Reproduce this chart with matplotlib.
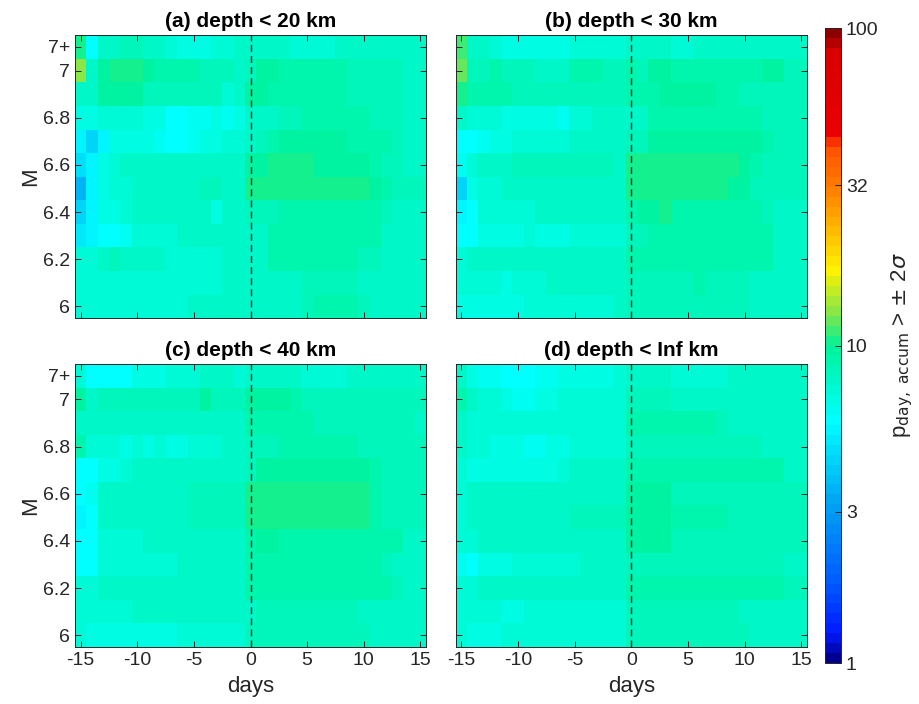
import numpy as np
import matplotlib.pyplot as plt
from matplotlib.colors import LinearSegmentedColormap, LogNorm

plt.rcParams['font.family'] = ['Liberation Sans', 'DejaVu Sans']
plt.rcParams['axes.unicode_minus'] = False

# grid: days around the event, magnitude bins (top row is "7+")
days = np.arange(-15, 16)
mags = [7.1, 7.0, 6.9, 6.8, 6.7, 6.6, 6.5, 6.4, 6.3, 6.2, 6.1, 6.0]
mag_ticks = [6, 6.2, 6.4, 6.6, 6.8, 7, 7.1]
mag_labels = ['6', '6.2', '6.4', '6.6', '6.8', '7', '7+']
day_ticks = [-15, -10, -5, 0, 5, 10, 15]
titles = ['(a) depth < 20 km', '(b) depth < 30 km',
          '(c) depth < 40 km', '(d) depth < Inf km']
cbar_ticks = [1, 3, 10, 32, 100]

# percentages, rows follow mags (top to bottom), columns follow days
p_20km = [
    [10.5, 5.8, 8, 8, 8.5, 8.5, 8, 7.5, 7, 6.8, 6.8, 6.8, 7, 7.2, 7.5, 8, 8, 7.5, 7.5, 7.2, 7.2, 7, 7, 7.5, 7.5, 7.8, 7.8, 7.8, 7.8, 7.5, 7.5],
    [13, 8, 9.5, 10.5, 10.5, 10, 9.5, 9, 9, 8.8, 8.8, 8.5, 8.5, 8.5, 8, 8.5, 9.5, 9.5, 9.3, 9, 9, 9, 9, 8.8, 8.5, 8.5, 8.5, 8.5, 8.5, 8, 8],
    [8, 8, 9.5, 9.5, 9.5, 9.5, 8.5, 8.3, 8.3, 8.3, 8.3, 8.3, 8.2, 7.2, 8, 9.5, 9.5, 9.3, 9.3, 9.3, 9.3, 9.3, 9.3, 9, 8.5, 8.5, 8.5, 8.5, 8.5, 8, 8],
    [6.7, 6.7, 7, 7, 7, 7, 6.7, 6.5, 6, 5.9, 6.2, 6.3, 6.5, 6.3, 6.8, 7.5, 7.5, 8, 8.5, 8.5, 8.8, 8.8, 8.8, 8.8, 8.8, 9, 8.5, 8.5, 8.3, 7.8, 7.8],
    [5.3, 4.5, 5.5, 6.7, 6.8, 6.8, 6.5, 6.3, 5.8, 5.8, 6.3, 6.5, 6.7, 7, 7, 8, 8.5, 9.3, 9.5, 9.5, 9.5, 9.5, 9.5, 9.5, 9.3, 9.2, 9, 8.8, 8.5, 8, 8],
    [4.6, 5.5, 6.8, 7.3, 8, 8, 8, 7.5, 7.5, 7.5, 7.5, 7.5, 7.8, 7.8, 7.8, 9.5, 9.8, 10, 10, 10, 10, 9.8, 9.8, 9.8, 9.5, 9.5, 9, 8.5, 8.2, 8, 8],
    [3.5, 5.5, 6.8, 7.3, 7.3, 7.5, 7.5, 7.5, 7.8, 8, 8, 8.2, 8.2, 8, 8, 10, 10, 10, 10.2, 10.2, 10.2, 10, 10, 10, 10, 10, 9.8, 8.8, 8.5, 8.5, 8.5],
    [4.5, 5.3, 6.5, 6.8, 7, 7.5, 7.5, 7.5, 7.5, 7.5, 7.5, 7.5, 6.8, 7.5, 7.5, 8.3, 8.5, 8.5, 9, 9, 9, 9, 9, 9, 9, 9, 8.8, 8.2, 8, 8, 8],
    [5.2, 5.5, 6, 6, 6.3, 7, 7, 7.2, 7.2, 7.5, 7.5, 7.5, 7.5, 7.5, 7.5, 8, 8, 9, 9, 9, 9, 9, 9, 9, 9, 9, 8.8, 8, 8, 8, 8],
    [7.3, 7.3, 7.5, 8.5, 7.8, 7.5, 7.5, 7.5, 7.2, 7.2, 7.2, 7.2, 7.3, 7.5, 7.5, 8, 8, 8.8, 8.8, 8.8, 8.8, 8.8, 8.8, 8.8, 8.8, 8.5, 8.3, 8, 8, 8, 7.8],
    [7.3, 7, 7, 7, 7, 7, 7, 7, 7, 7.3, 7.3, 7.3, 7.3, 7.5, 7.5, 8, 8, 8, 8, 8, 8.2, 8.3, 8.3, 8.3, 8.3, 8, 7.8, 7.8, 7.8, 7.8, 7.8],
    [7.3, 7.3, 7.2, 7.2, 7.2, 7.2, 7.2, 7.2, 7.2, 7.3, 7.5, 7.5, 7.5, 7.5, 7.5, 8, 8, 8, 8, 8, 8.3, 9, 9, 9, 8.8, 8.3, 8, 8, 8, 8, 7.8],
]

p_30km = [
    [11.5, 7.5, 7.5, 7.3, 6.8, 6.7, 6.7, 6.7, 6.5, 6.5, 7, 7, 7, 7.3, 7.3, 7.8, 7.8, 7.8, 7.5, 7, 7, 7.8, 8, 8, 8, 8, 8, 8, 8, 8, 8],
    [12, 8.5, 8.5, 9, 8.3, 8.3, 8.3, 8, 8, 8, 9.3, 9.3, 9.3, 8.5, 8.5, 9, 8.5, 9.5, 9.5, 9.3, 8.8, 8.8, 8.8, 8.8, 8.8, 8.8, 8.8, 9.7, 9.7, 8.5, 8.5],
    [10, 9, 9, 9, 9, 8.5, 8.5, 8.5, 8.5, 8.5, 8.5, 8.5, 8.3, 8.3, 8.3, 9.3, 9.3, 9.3, 9.5, 9.5, 9.5, 9.5, 9.5, 9.3, 9, 8.5, 8.5, 8.5, 8.5, 8.5, 8.5],
    [7.5, 7, 7.3, 7.3, 6.8, 6.8, 6.8, 6.8, 6.5, 6.3, 7.3, 7.3, 7.5, 7.5, 7.5, 8, 8, 8.8, 8.8, 8.8, 9, 9, 9, 9, 9, 9, 8.8, 8.3, 8.3, 8.3, 8.3],
    [5.8, 5.8, 6.3, 6.5, 6.7, 7.2, 7.3, 7.3, 7.3, 7.3, 7.5, 7.8, 7.8, 7.8, 7.8, 8.5, 8.5, 9.8, 9.8, 9.8, 9.8, 9.8, 9.8, 9.8, 9.8, 9.8, 9.5, 9, 8.5, 8.5, 8.5],
    [6.3, 7, 7.5, 7.5, 7.5, 8.2, 8.2, 8.2, 8.2, 8.2, 8.2, 8.2, 8.2, 8.2, 8, 10, 10, 10, 10, 10, 10, 10, 10, 10, 10, 9.8, 8.8, 8.5, 8.5, 8.5, 8.5],
    [4.5, 6.5, 7.3, 7.3, 7.5, 8, 8, 8, 8, 8, 8, 8, 8, 8, 8, 10, 10.2, 10.2, 10.2, 10.2, 10.2, 10.2, 10, 10, 9.8, 9.8, 8.5, 8.5, 8.5, 8.5, 8.5],
    [5.5, 6, 7, 7.3, 7.3, 7.3, 7.3, 7.5, 7.5, 7.5, 7.5, 8, 7.5, 7.5, 7.5, 9, 9.5, 9.5, 10, 9.3, 9, 9, 9, 9, 9, 9, 8.8, 8.2, 8, 8, 8],
    [5.7, 6, 6.5, 6.8, 6.8, 6.8, 7.3, 6.8, 6.8, 6.8, 7, 7.2, 7.2, 7.2, 7.2, 8.5, 8.5, 8.8, 8.8, 8.8, 8.8, 8.8, 8.8, 8.8, 8.8, 8.8, 8.8, 8.8, 8, 8, 8],
    [7.3, 8, 8, 8, 8, 8, 8, 7.5, 7.5, 7.5, 7.5, 7.5, 7.8, 7.8, 7.5, 9, 9, 9, 9, 9, 9, 9, 9, 9, 9, 9, 9, 8.8, 8, 8, 8],
    [7, 7, 7, 7, 6.5, 7, 7, 7.2, 7.5, 7.5, 7.5, 7.5, 7.5, 7.5, 7.5, 8.5, 8.5, 8.5, 8.5, 8.5, 8.3, 9, 8.5, 8.5, 8.5, 8.3, 8, 8, 8, 8, 8],
    [6.5, 6.8, 6.8, 6.8, 6.8, 6.8, 7.2, 7.2, 7.2, 7.2, 7.2, 7.2, 7.2, 7.3, 7.5, 8.5, 8.5, 8.5, 8.5, 8.5, 8.5, 8.5, 8.5, 8.5, 8.5, 8.2, 8, 8, 8, 8, 8],
]

p_40km = [
    [7.3, 5.8, 5.8, 5.8, 5.8, 6.8, 6.8, 6.8, 7.3, 7.3, 7.3, 7.5, 7.5, 7.5, 7.3, 7.8, 7.8, 7.8, 7.8, 7.8, 7, 7, 7, 7, 7.8, 7.8, 7.8, 7.8, 7.8, 7.8, 7.8],
    [9.5, 8, 8.3, 8.5, 8.5, 8.5, 8.5, 8.5, 8.5, 8.5, 8.5, 9.5, 8.5, 8.5, 8.3, 9.5, 9.5, 9.5, 9.5, 8.8, 8.5, 8.5, 8.5, 8.5, 8.5, 8.5, 8.5, 8.5, 8.5, 8.5, 8.5],
    [8, 7.8, 8, 8, 8, 8, 8, 8, 7.5, 7.5, 8, 8, 8, 7.8, 7.8, 9.3, 9.3, 9.3, 9.3, 9.3, 9, 8.5, 8.5, 8.5, 8.5, 8.5, 8.5, 8.5, 8.5, 8.5, 8],
    [9, 7.3, 7.3, 7.3, 6.8, 7, 6.8, 7, 6.5, 6.5, 7.3, 7.3, 7.3, 7.5, 7.5, 8.3, 8.3, 8.3, 8.8, 8.8, 8.8, 8.8, 8.8, 8.8, 9.3, 8.3, 8.3, 8.3, 8.3, 8.3, 8.3],
    [5.8, 6, 6.8, 6.8, 7.3, 7.5, 7.5, 7.5, 7.5, 7.5, 7.8, 7.8, 7.8, 7.8, 7.8, 8.5, 9.8, 9.8, 9.8, 9.8, 9.8, 9.8, 9.8, 9.8, 9.8, 9.5, 8.8, 8.5, 8.5, 8.5, 8.5],
    [6, 6.3, 7.5, 7.8, 8, 8, 8, 8, 8, 8, 8.5, 8.5, 8.5, 8.5, 8.5, 10, 10, 10, 10, 10, 10, 10, 10, 10, 10, 10, 8.8, 8.5, 8.5, 8.5, 8.5],
    [5.5, 6, 7.5, 7.8, 7.8, 7.8, 8, 8, 8, 8, 8.3, 8.3, 8.3, 8.3, 8.3, 10, 10, 10, 10, 10, 10, 10, 10, 10, 10, 10, 8.8, 8.5, 8.5, 8.5, 8.5],
    [5.8, 5.8, 7, 7.3, 7.3, 7.3, 8, 8, 8, 8, 8, 8, 8, 8, 8, 9.3, 9.5, 9.5, 9.3, 8.8, 8.8, 8.8, 8.8, 8.8, 8.8, 8.8, 8.8, 8.8, 8.8, 8, 8],
    [5.8, 6, 7, 7.3, 7.3, 7.3, 7.3, 7.3, 7, 7.5, 7.8, 7.8, 7.8, 7.8, 7.8, 8.8, 8.8, 8.8, 8.8, 8.8, 8.8, 8.8, 8.8, 8.8, 8.8, 8.8, 8.8, 8.5, 7.8, 7.8, 7.8],
    [7.3, 7.3, 7.8, 7.8, 7.8, 7.8, 7.8, 7.8, 7.8, 7.8, 7.8, 7.8, 7.8, 7.8, 7.8, 8.8, 8.8, 8.8, 8.8, 8.8, 8.8, 8.8, 8.8, 8.8, 8.8, 8.8, 8.8, 8.8, 8.5, 8, 8],
    [7, 7, 7, 7.3, 7.3, 7.5, 7.5, 7.5, 7.5, 7.5, 7.5, 7.5, 7.5, 7.5, 7.5, 8, 8.5, 8.5, 8.5, 8.5, 8.5, 8.5, 8.5, 8.5, 8.5, 7.8, 7.8, 7.8, 7.8, 7.8, 7.8],
    [7, 6.8, 6.8, 6.8, 6.8, 6.8, 6.8, 6.8, 6.8, 7.3, 7.3, 7.3, 7.3, 7.3, 7.3, 8.5, 8.5, 8.5, 8.5, 8.5, 8.5, 8.5, 8.5, 8.5, 8.5, 8.5, 8, 8, 8, 8, 8],
]

p_inf = [
    [7.5, 6.5, 6.3, 6.2, 5.8, 5.8, 5.8, 6.3, 6.3, 6.8, 6.8, 6.8, 6.8, 6.8, 7, 8, 8, 8, 8, 7, 7, 7, 7, 7, 7.8, 7.8, 7.8, 7.8, 7.8, 7.8, 7.8],
    [9, 7.5, 7.3, 7, 6.5, 6.3, 6.3, 6.5, 6.5, 7.3, 7.3, 7.3, 7.3, 7.3, 7.3, 8.5, 8.5, 8.5, 8.3, 8, 8, 8, 8, 8, 8, 8, 8, 8, 8, 8, 8],
    [8, 7.3, 7.3, 7.3, 7, 7, 7, 7.3, 7.3, 7.3, 7.3, 7.3, 7.3, 7.3, 7.3, 8.8, 8.8, 8.8, 8.8, 8.8, 8.8, 8.8, 8.8, 8.5, 8, 8, 8, 8, 8, 8, 8],
    [7.5, 7, 7, 6.8, 6.5, 6.5, 6.3, 6.3, 6.5, 6.5, 7.3, 7.3, 7.3, 7.3, 7.3, 8.5, 8.5, 8.5, 8.5, 8.5, 8.5, 8.5, 8.5, 8.5, 8.5, 8.5, 8.5, 8, 8, 8, 8],
    [7, 6.8, 6.8, 6.8, 6.5, 6.5, 6.5, 6.5, 6.5, 7.3, 7.5, 7.5, 7.5, 7.5, 7.5, 8.8, 8.8, 8.8, 8.8, 8.8, 8.8, 8.8, 8.8, 8.8, 8.8, 8.8, 8.8, 8.8, 8.8, 8, 8],
    [7.3, 7.5, 7.5, 7.5, 7.5, 7.5, 7.5, 7.5, 7.5, 7.5, 7.8, 8, 8, 8, 8, 9.5, 9.5, 9.5, 9.5, 8.5, 8.5, 8.5, 8.5, 8.5, 8.5, 8.5, 8.5, 8.5, 8.5, 8.3, 8.3],
    [7.3, 7.5, 7.5, 7.5, 7.5, 7.5, 7.8, 8, 8, 8, 8.5, 8.5, 8.5, 8.5, 8.5, 9.5, 9.5, 9.5, 9.5, 9, 9, 9, 9, 9, 8.5, 8.5, 8.5, 8.5, 8.5, 8.5, 8.5],
    [7, 7.3, 7.5, 7.5, 7.5, 7.5, 8, 8, 8, 8, 8, 8, 8, 8, 8, 9.5, 9.5, 9.5, 9.5, 8.5, 8.5, 8.5, 8.5, 8.5, 8.5, 8.5, 8.5, 8.5, 8.5, 8.5, 8.5],
    [6.3, 5.8, 6.5, 6.8, 6.8, 7, 7.3, 7.3, 7.3, 7.3, 7.3, 7.5, 7.5, 7.5, 7.5, 8.5, 8.5, 8.5, 8.5, 8.5, 8.5, 8.5, 8.5, 8.5, 8.5, 8.5, 8.5, 8.5, 8.5, 8, 8],
    [7, 7.3, 7.5, 7.5, 7.5, 7.5, 7.5, 7.5, 7.5, 7.5, 7.5, 7.8, 7.8, 7.8, 7.8, 8.8, 8.8, 8.8, 8.8, 8.8, 8.8, 8.8, 8.8, 8.8, 8.8, 8.8, 8.8, 8.8, 8.8, 8.5, 8.5],
    [7, 7, 7, 7, 6.8, 6.8, 7, 7, 7, 7.3, 7.3, 7.3, 7.3, 7.3, 7.3, 8.5, 8.5, 8.5, 8.5, 8.5, 8.5, 8.5, 8.5, 8.5, 8.5, 8, 8, 8, 8, 8, 8],
    [7, 6.8, 6.8, 6.8, 7, 7, 7, 7, 7, 7, 7.3, 7.3, 7.3, 7.3, 7.3, 8.5, 8.5, 8.5, 8.5, 8.5, 8.5, 8.5, 8.5, 8.5, 8.5, 8.5, 7.8, 7.8, 7.8, 7.8, 7.8],
]

panels = [p_20km, p_30km, p_40km, p_inf]

# jet-like map, stretched for a log colour axis
cmap = LinearSegmentedColormap.from_list('jetlog', [
    (0.0, (0, 0, 0.55)), (0.04, (0, 0.1, 1)), (0.12, (0, 0.35, 1)),
    (0.25, (0, 0.65, 0.95)), (0.38, (0, 1, 1)), (0.5, (0, 0.95, 0.6)),
    (0.55, (0.5, 0.9, 0.3)), (0.62, (1, 0.95, 0)), (0.75, (1, 0.5, 0)),
    (0.82, (1, 0.3, 0)), (0.835, (0.92, 0, 0)), (0.97, (0.85, 0, 0)),
    (1.0, (0.55, 0, 0))], N=64)
norm = LogNorm(vmin=1, vmax=100)

fig = plt.figure(figsize=(9.19, 7.04), dpi=100)
pos = [[0.0816, 0.548, 0.382, 0.402], [0.496, 0.548, 0.382, 0.402],
       [0.0816, 0.081, 0.382, 0.402], [0.496, 0.081, 0.382, 0.402]]
dark = '#262626'

for i, data in enumerate(panels):
    ax = fig.add_axes(pos[i])
    mesh = ax.pcolormesh(days, mags, np.array(data), cmap=cmap, norm=norm,
                         shading='nearest')
    ax.axvline(0, color='#222222', ls='--', lw=1, dashes=(5, 3))
    ax.set_xlim(-15.5, 15.5)
    ax.set_ylim(5.95, 7.15)
    ax.set_xticks(day_ticks)
    ax.set_yticks(mag_ticks)
    ax.set_yticklabels(mag_labels)
    ax.tick_params(direction='in', top=True, right=True, length=4,
                   labelsize=14, colors=dark, width=0.7)
    for s in ax.spines.values():
        s.set_color(dark)
        s.set_linewidth(0.7)
    ax.set_title(titles[i], fontsize=15, fontweight='bold', pad=6)
    if i < 2:
        ax.set_xticklabels([])
    else:
        ax.set_xlabel('days', fontsize=16, color=dark, labelpad=5)
    if i % 2 == 1:
        ax.set_yticklabels([])
    else:
        ax.set_ylabel('M', fontsize=16, color=dark, labelpad=1)

cax = fig.add_axes([0.8977, 0.0582, 0.0174, 0.902])
cb = fig.colorbar(mesh, cax=cax)
cb.set_ticks(cbar_ticks)
cb.set_ticklabels([str(t) for t in cbar_ticks])
cb.minorticks_off()
cb.ax.tick_params(direction='in', length=4, labelsize=14, colors=dark, width=0.7)
cb.outline.set_edgecolor(dark)
cb.outline.set_linewidth(0.7)
cb.set_label(r'p$_{\mathrm{day,\ accum}}$ > $\pm$ 2$\sigma$', fontsize=16,
             color=dark, labelpad=8)

fig.savefig('out.png', dpi=100)
